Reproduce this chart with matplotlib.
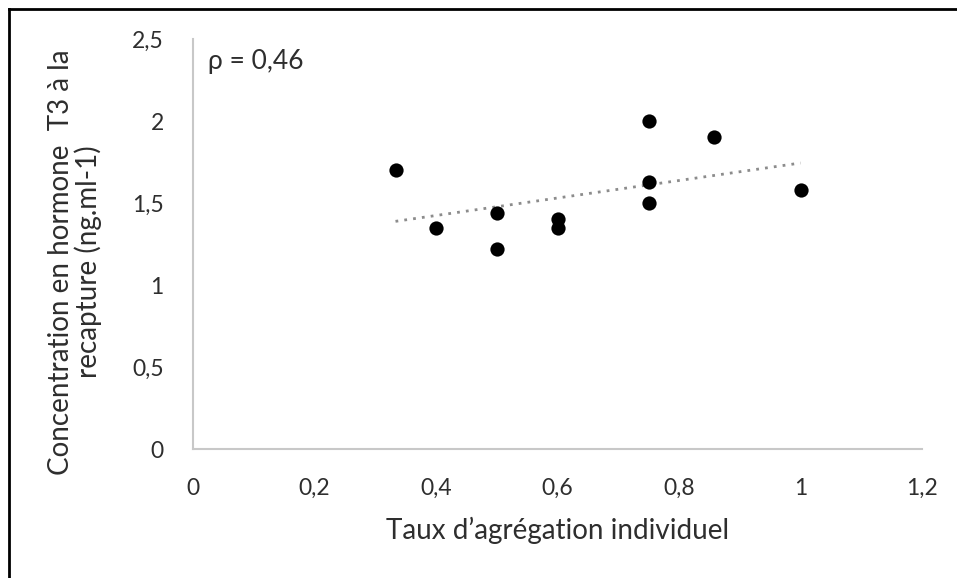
import numpy as np
import matplotlib
matplotlib.use("Agg")
import matplotlib.pyplot as plt
from matplotlib.lines import Line2D

# taux d'agregation individuel vs T3 a la recapture
taux = [1/3, 0.4, 0.5, 0.5, 0.6, 0.6, 0.75, 0.75, 0.75, 6/7, 1.0]
t3 = [1.70, 1.35, 1.44, 1.22, 1.40, 1.35, 2.00, 1.63, 1.50, 1.90, 1.58]

xticks = [0, 0.2, 0.4, 0.6, 0.8, 1.0, 1.2]
xticklabels = ["0", "0,2", "0,4", "0,6", "0,8", "1", "1,2"]
yticks = [0, 0.5, 1.0, 1.5, 2.0, 2.5]
yticklabels = ["0", "0,5", "1", "1,5", "2", "2,5"]

txt = "#2e2e2e"
plt.rcParams['font.family'] = ['Lato', 'DejaVu Sans']

fig = plt.figure(figsize=(9.57, 5.78), dpi=100)
ax = fig.add_axes([193/957, 1 - 449/578, (922 - 193)/957, (449 - 39)/578])

ax.scatter(taux, t3, s=105, color="black", zorder=3, linewidths=0)

# courbe de tendance lineaire
a, b = np.polyfit(taux, t3, 1)
xl = np.array([min(taux), max(taux)])
ax.plot(xl, a*xl + b, color="#8c8c8c", lw=2, linestyle=(0, (1, 2.2)), zorder=2)

ax.set_xlim(0, 1.2)
ax.set_ylim(0, 2.5)
ax.set_xticks(xticks)
ax.set_xticklabels(xticklabels)
ax.set_yticks(yticks)
ax.set_yticklabels(yticklabels)
ax.tick_params(length=0, labelsize=16.5, colors=txt)
ax.tick_params(axis="x", pad=21)
ax.tick_params(axis="y", pad=21)

for s in ["top", "right"]:
    ax.spines[s].set_visible(False)
for s in ["left", "bottom"]:
    ax.spines[s].set_color("#c8c8c8")
    ax.spines[s].set_linewidth(1.5)

ax.text(0.02, 0.975, "\u03c1 = 0,46", transform=ax.transAxes, fontsize=19,
        color=txt, ha="left", va="top")

fig.text(558/957, 1 - 530/578, "Taux d\u2019agr\u00e9gation individuel", fontsize=20,
         color=txt, ha="center", va="center")
fig.text(75/957, 1 - 262/578, "Concentration en hormone  T3 \u00e0 la\nrecapture (ng.ml-1)",
         fontsize=20, color=txt, ha="center", va="center", rotation=90,
         multialignment="center", linespacing=1.05)

# cadre du graphique (bords gauche et haut visibles)
fig.add_artist(Line2D([9/957, 9/957], [0, 1 - 9/578], color="black", lw=2,
                      transform=fig.transFigure))
fig.add_artist(Line2D([9/957, 1], [1 - 9/578, 1 - 9/578], color="black", lw=2,
                      transform=fig.transFigure))

fig.savefig("out.png", dpi=100, facecolor="white")
